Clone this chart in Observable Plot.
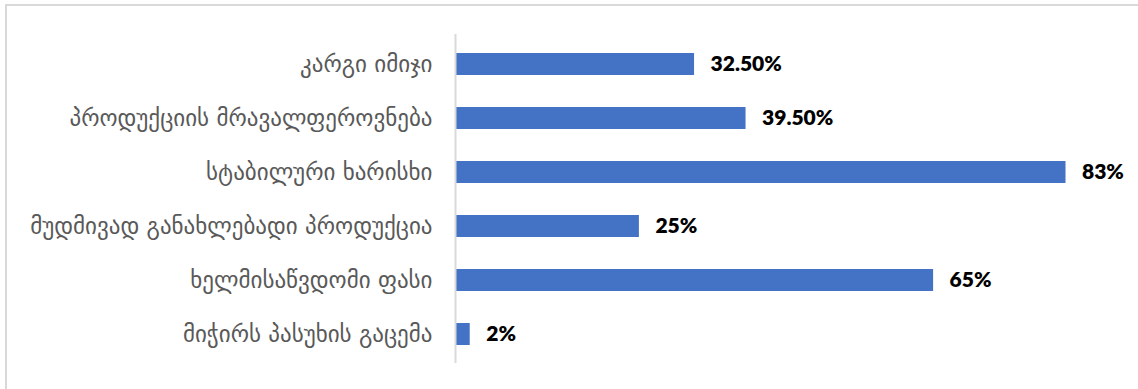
<!DOCTYPE html>
<html>
<head>
<meta charset="utf-8">
<script src="https://cdn.jsdelivr.net/npm/d3@7"></script>
<script src="https://cdn.jsdelivr.net/npm/@observablehq/plot@0.6"></script>
<style>
  html, body { margin: 0; padding: 0; background: #fff; }
  #wrap { position: relative; width: 1138px; height: 389px; overflow: hidden; }
  #frame { position: absolute; left: 5px; top: 4px; width: 1200px; height: 500px;
           border-left: 2px solid #d9d9d9; border-top: 2px solid #d9d9d9; pointer-events: none; }
</style>
</head>
<body>
<div id="wrap"><div id="frame"></div></div>
<script>
const categories = [
  "კარგი იმიჯი",
  "პროდუქციის მრავალფეროვნება",
  "სტაბილური ხარისხი",
  "მუდმივად განახლებადი პროდუქცია",
  "ხელმისაწვდომი ფასი",
  "მიჭირს პასუხის გაცემა"
];
const values = [32.5, 39.5, 83, 25, 65, 2];
const valueLabels = ["32.50%", "39.50%", "83%", "25%", "65%", "2%"];

const data = categories.map((c, i) => ({category: c, value: values[i], label: valueLabels[i]}));

const chart = Plot.plot({
  width: 1138,
  height: 389,
  marginLeft: 455,
  marginRight: 21,
  marginTop: 34,
  marginBottom: 26,
  style: {fontFamily: "DejaVu Sans", background: "transparent"},
  x: {domain: [0, 90], axis: null},
  y: {domain: categories, paddingInner: 0.6, paddingOuter: 0.3, label: null},
  marks: [
    Plot.axisY({tickSize: 0, tickPadding: 23, fontSize: 23, fill: "#595959", fontFamily: "DejaVu Sans"}),
    Plot.barX(data, {x: "value", y: "category", fill: "#4472C4"}),
    Plot.ruleX([0], {stroke: "#d9d9d9", strokeWidth: 2}),
    Plot.text(data, {x: "value", y: "category", text: "label", dx: 16, textAnchor: "start",
      fontSize: 21, fontWeight: 800, fill: "#000", fontFamily: "Lato"})
  ]
});
chart.style.position = "absolute";
chart.style.left = "0";
chart.style.top = "0";
document.getElementById("wrap").appendChild(chart);
</script>
</body>
</html>
